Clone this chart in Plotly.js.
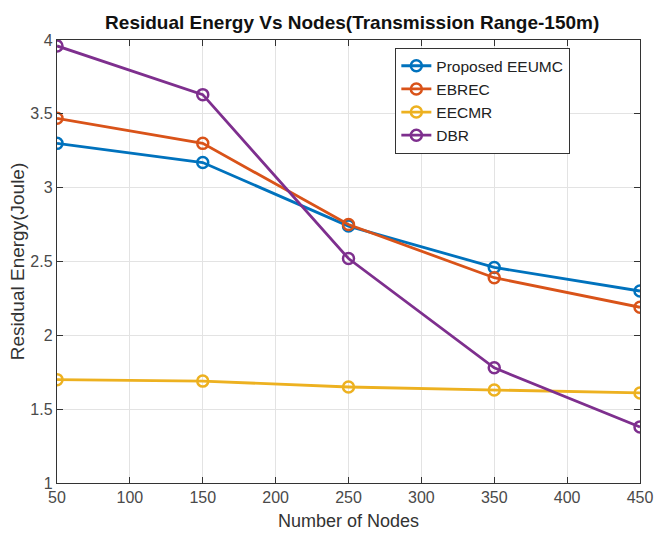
<!DOCTYPE html>
<html>
<head>
<meta charset="utf-8">
<script src="https://cdn.plot.ly/plotly-3.0.1.min.js"></script>
<style>html,body{margin:0;padding:0;background:#fff;}#chart{width:662px;height:535px;}</style>
</head>
<body>
<div id="chart"></div>
<script>
const nodes = [50, 150, 250, 350, 450];
const proposedEEUMC = [3.30, 3.17, 2.74, 2.46, 2.30];
const ebrec = [3.47, 3.30, 2.75, 2.39, 2.19];
const eecmr = [1.70, 1.69, 1.65, 1.63, 1.61];
const dbr = [3.96, 3.63, 2.52, 1.78, 1.38];
const seriesNames = ['Proposed EEUMC', 'EBREC', 'EECMR', 'DBR'];
const seriesColors = ['#0072BD', '#D95319', '#EDB120', '#7E2F8E'];
const xTicks = [50, 100, 150, 200, 250, 300, 350, 400, 450];
const yTicks = [1, 1.5, 2, 2.5, 3, 3.5, 4];

const allSeries = [proposedEEUMC, ebrec, eecmr, dbr];
const traces = allSeries.map((vals, i) => ({
  x: nodes, y: vals, name: seriesNames[i], type: 'scatter', mode: 'lines+markers',
  line: {color: seriesColors[i], width: 2.8},
  marker: {symbol: 'circle-open', size: 11, color: seriesColors[i], line: {width: 2.5, color: seriesColors[i]}}
}));

const FONT = 'Liberation Sans, Arial, sans-serif';
const axisCommon = {
  showline: true, mirror: 'allticks', linecolor: '#333', linewidth: 1.2,
  ticks: 'inside', ticklen: 6, tickcolor: '#333',
  showgrid: true, gridcolor: '#e3e3e3', gridwidth: 1, zeroline: false,
  tickfont: {family: FONT, size: 16, color: '#4a4a4a'}
};

const layout = {
  width: 662, height: 535,
  margin: {l: 57, r: 22, t: 40, b: 52},
  paper_bgcolor: '#fff', plot_bgcolor: '#fff',
  title: {text: '<b>Residual Energy Vs Nodes(Transmission Range-150m)</b>',
    font: {family: FONT, size: 19, color: '#111'},
    x: 0.532, xanchor: 'center', y: 0.958, yanchor: 'middle'},
  xaxis: Object.assign({}, axisCommon, {
    range: [50, 450], tickvals: xTicks, ticktext: xTicks.map(String),
    title: {text: 'Number of Nodes', font: {family: FONT, size: 18, color: '#333'}, standoff: 9}
  }),
  yaxis: Object.assign({}, axisCommon, {
    range: [1, 4], tickvals: yTicks, ticktext: yTicks.map(String),
    title: {text: 'Residual Energy(Joule)', font: {family: FONT, size: 19, color: '#333'}, standoff: 0}
  }),
  legend: {x: 0.58, y: 0.982, xanchor: 'left', yanchor: 'top',
    bgcolor: '#fff', bordercolor: '#333', borderwidth: 1.2,
    font: {family: FONT, size: 15.5, color: '#222'},
    tracegroupgap: 0},
  showlegend: true
};

Plotly.newPlot('chart', traces, layout, {displayModeBar: false, staticPlot: true});
</script>
</body>
</html>
